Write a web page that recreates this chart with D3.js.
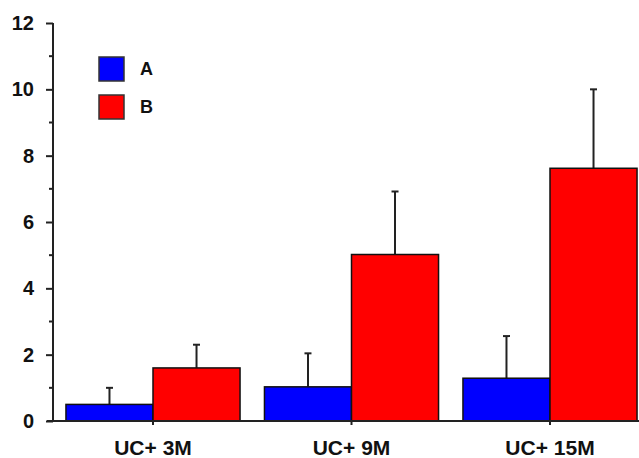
<!DOCTYPE html>
<html>
    <head>
        <script src="https://cdn.jsdelivr.net/npm/d3@7"></script>
        <style>
            body { margin:0; background:#fff; }
            text { font-family:"Liberation Sans", Arial, sans-serif; fill:#111; }
        </style>
    </head>
    <body>
        <svg id="chart" width="639" height="458"></svg>
        <script>
            // values
            var categories = ["UC+ 3M", "UC+ 9M", "UC+ 15M"];
            var seriesNames = ["A", "B"];
            var seriesColors = ["#0000ff", "#ff0000"];
            var valuesA = [0.5, 1.03, 1.29];
            var errorsA = [0.5, 1.01, 1.27];
            var valuesB = [1.6, 5.02, 7.62];
            var errorsB = [0.7, 1.9, 2.38];
            var majorTicks = [0, 2, 4, 6, 8, 10, 12];
            var minorTicks = [1, 3, 5, 7, 9, 11];

            var svg = d3.select("#chart");

            var y = d3.scaleLinear().domain([0, 12]).range([421, 23]);
            var x0 = d3.scaleBand().domain(categories).range([53.75, 649.25])
                .paddingInner(0.123).paddingOuter(0.0615);
            var x1 = d3.scaleBand().domain(seriesNames).range([0, x0.bandwidth()]);

            var rows = categories.map(function(c, i) {
                return [
                    {cat:c, s:"A", v:valuesA[i], e:errorsA[i]},
                    {cat:c, s:"B", v:valuesB[i], e:errorsB[i]}
                ];
            });
            var flat = [].concat.apply([], rows);

            // error bars (drawn first so bars cover the lower half)
            var err = svg.append("g").attr("stroke", "#222").attr("stroke-width", 2);
            flat.forEach(function(d) {
                var cx = x0(d.cat) + x1(d.s) + x1.bandwidth() / 2;
                err.append("line").attr("x1", cx).attr("x2", cx)
                    .attr("y1", y(d.v)).attr("y2", y(d.v + d.e));
                err.append("line").attr("x1", cx - 3.5).attr("x2", cx + 3.5)
                    .attr("y1", y(d.v + d.e)).attr("y2", y(d.v + d.e));
            });

            svg.append("g").selectAll("rect").data(flat).enter().append("rect")
                .attr("x", function(d){ return x0(d.cat) + x1(d.s); })
                .attr("y", function(d){ return y(d.v); })
                .attr("width", x1.bandwidth())
                .attr("height", function(d){ return y(0) - y(d.v); })
                .attr("fill", function(d){ return seriesColors[seriesNames.indexOf(d.s)]; })
                .attr("stroke", "#111")
                .attr("stroke-width", 1.5);

            // y axis
            var yAxis = svg.append("g").attr("transform", "translate(53,0)")
                .call(d3.axisLeft(y).tickValues(majorTicks).tickSize(7).tickPadding(12));
            yAxis.select(".domain").remove();
            yAxis.selectAll("text").style("font-size", "20px").style("font-weight", "bold");
            yAxis.selectAll("line").attr("stroke", "#222").attr("stroke-width", 2);
            yAxis.selectAll(".minor").data(minorTicks).enter().append("line")
                .attr("x1", -4).attr("x2", 0)
                .attr("y1", function(d){ return y(d); }).attr("y2", function(d){ return y(d); })
                .attr("stroke", "#222").attr("stroke-width", 2);
            svg.append("line").attr("x1", 53).attr("x2", 53)
                .attr("y1", y(12)).attr("y2", y(0) + 1)
                .attr("stroke", "#222").attr("stroke-width", 2);

            // x axis
            var xAxis = svg.append("g").attr("transform", "translate(0," + y(0) + ")")
                .call(d3.axisBottom(x0).tickSize(4).tickPadding(15).tickSizeOuter(0));
            xAxis.select(".domain").remove();
            xAxis.selectAll("line").attr("stroke", "#222").attr("stroke-width", 2);
            xAxis.selectAll("text").style("font-size", "21px").style("font-weight", "bold").attr("fill", "#111");
            svg.append("line").attr("x1", 47).attr("x2", 639)
                .attr("y1", y(0)).attr("y2", y(0))
                .attr("stroke", "#222").attr("stroke-width", 2);

            // legend
            var legend = svg.append("g");
            seriesNames.forEach(function(s, i) {
                var g = legend.append("g").attr("transform", "translate(99," + (57 + i * 38) + ")");
                g.append("rect").attr("width", 25).attr("height", 24)
                    .attr("fill", seriesColors[i]).attr("stroke", "#333").attr("stroke-width", 1.5);
                g.append("text").attr("x", 41).attr("y", 18)
                    .style("font-size", "18px").style("font-weight", "bold").text(s);
            });
        </script>
    </body>
</html>
